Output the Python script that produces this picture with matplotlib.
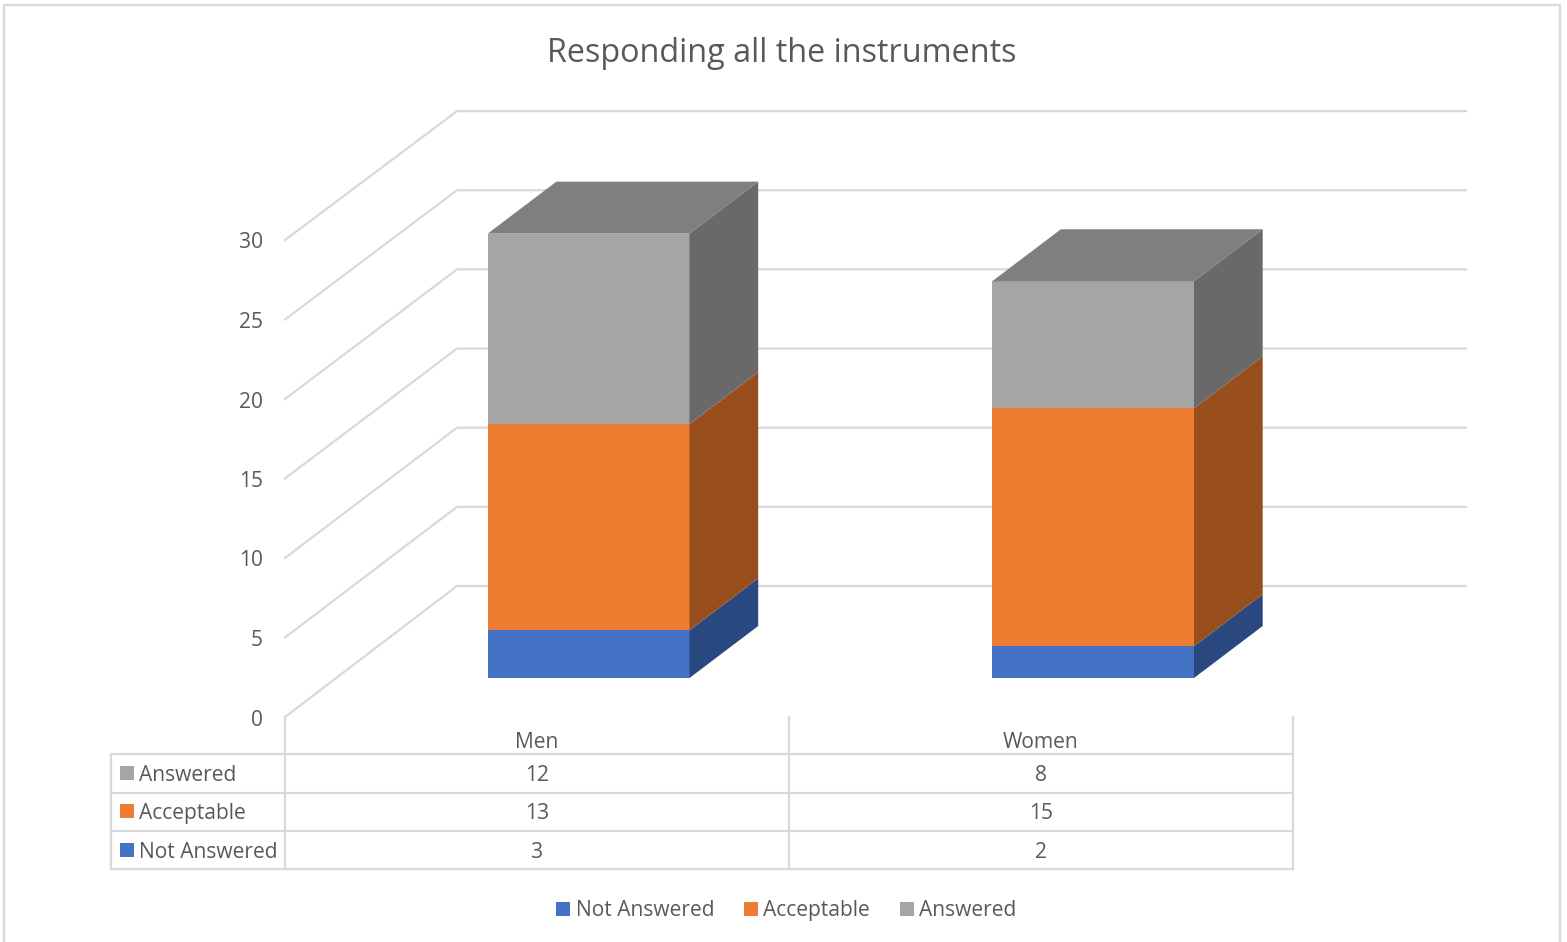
import matplotlib
matplotlib.use("Agg")
import matplotlib.pyplot as plt
from matplotlib.patches import Polygon, Rectangle

plt.rcParams['font.family'] = ['Open Sans', 'DejaVu Sans']

categories = ["Men", "Women"]
series_names = ["Not Answered", "Acceptable", "Answered"]
not_answered = [3, 2]
acceptable = [13, 15]
answered = [12, 8]
y_ticks = [0, 5, 10, 15, 20, 25, 30]

front_colors = ["#4472C4", "#ED7D31", "#A5A5A5"]
side_colors = ["#2A4880", "#984F1D", "#696969"]
top_color = "#7F7F7F"
line_color = "#D9D9D9"
text_color = "#595959"

W, H = 1567, 942
fig = plt.figure(figsize=(W / 100, H / 100), dpi=100)
ax = fig.add_axes([0, 0, 1, 1])
ax.set_xlim(0, W)
ax.set_ylim(H, 0)
ax.axis("off")

# projection of the fake 3d box
def wall_y(v):
    return 717 - 15.9 * v

def back_y(v):
    return 586 - 15.83 * v

def bar_y(v):
    return 678 - 15.87 * v

wall_x, back_x, right_x = 285, 457, 1466
bar_left = [487.7, 992.2]
bar_w = 201.8
dx, dy = 68.7, -52
lw = 1.6
font_size = 15.1

def hline(x0, x1, y):
    ax.plot([x0, x1], [y, y], c=line_color, lw=lw, solid_capstyle="butt")

def vline(x, y0, y1):
    ax.plot([x, x], [y0, y1], c=line_color, lw=lw, solid_capstyle="projecting")

# chart border, open at the bottom edge
ax.plot([4, 4, 1560, 1560], [H, 5, 5, H], c=line_color, lw=lw)

ax.text(782, 53.5, "Responding all the instruments", fontsize=23.3, color=text_color,
        ha="center", va="center")

# grid on side wall and back wall
for t in y_ticks:
    ax.plot([wall_x, back_x, right_x], [wall_y(t), back_y(t), back_y(t)],
            c=line_color, lw=lw, solid_joinstyle="miter")
    ax.text(263, wall_y(t) + 3, str(t), fontsize=font_size, color=text_color,
            ha="right", va="center")

# stacked bars
stacks = [not_answered, acceptable, answered]
for i, left in enumerate(bar_left):
    base = 0
    right = left + bar_w
    for j, values in enumerate(stacks):
        top = base + values[i]
        y0, y1 = bar_y(base), bar_y(top)
        ax.add_patch(Rectangle((left, y1), bar_w, y0 - y1, fc=front_colors[j], ec="none", zorder=3))
        ax.add_patch(Polygon([(right, y0), (right + dx, y0 + dy), (right + dx, y1 + dy), (right, y1)],
                             closed=True, fc=side_colors[j], ec="none", zorder=3))
        base = top
    y_top = bar_y(base)
    ax.add_patch(Polygon([(left, y_top), (left + dx, y_top + dy), (right + dx, y_top + dy), (right, y_top)],
                         closed=True, fc=top_color, ec="none", zorder=3))

# data table under the plot
col_x = [111, 285, 789, 1293]
row_y = [754, 792.5, 831, 869]
for y in row_y:
    hline(col_x[0], col_x[-1], y)
vline(col_x[0], row_y[0], row_y[-1])
for x in col_x[1:]:
    vline(x, 717, row_y[-1])

for i, name in enumerate(categories):
    xc = (col_x[i + 1] + col_x[i + 2]) / 2
    ax.text(xc, 743, name, fontsize=font_size, color=text_color, ha="center", va="center")

table_rows = [2, 1, 0]
for r, j in enumerate(table_rows):
    yc = (row_y[r] + row_y[r + 1]) / 2
    ax.add_patch(Rectangle((120, yc - 7.5), 14, 14, fc=front_colors[j], ec="none"))
    ax.text(139, yc + 2, series_names[j], fontsize=font_size, color=text_color, ha="left", va="center")
    for i in range(len(categories)):
        xc = (col_x[i + 1] + col_x[i + 2]) / 2
        ax.text(xc, yc + 2, str(stacks[j][i]), fontsize=font_size, color=text_color, ha="center", va="center")

# legend
legend_x = [556, 744, 900]
legend_text_x = [576, 763, 919]
for j, x in enumerate(legend_x):
    ax.add_patch(Rectangle((x, 901.5), 14, 14, fc=front_colors[j], ec="none"))
    ax.text(legend_text_x[j], 910.5, series_names[j], fontsize=font_size, color=text_color, ha="left", va="center")

fig.savefig("out.png", dpi=100, facecolor="white")
